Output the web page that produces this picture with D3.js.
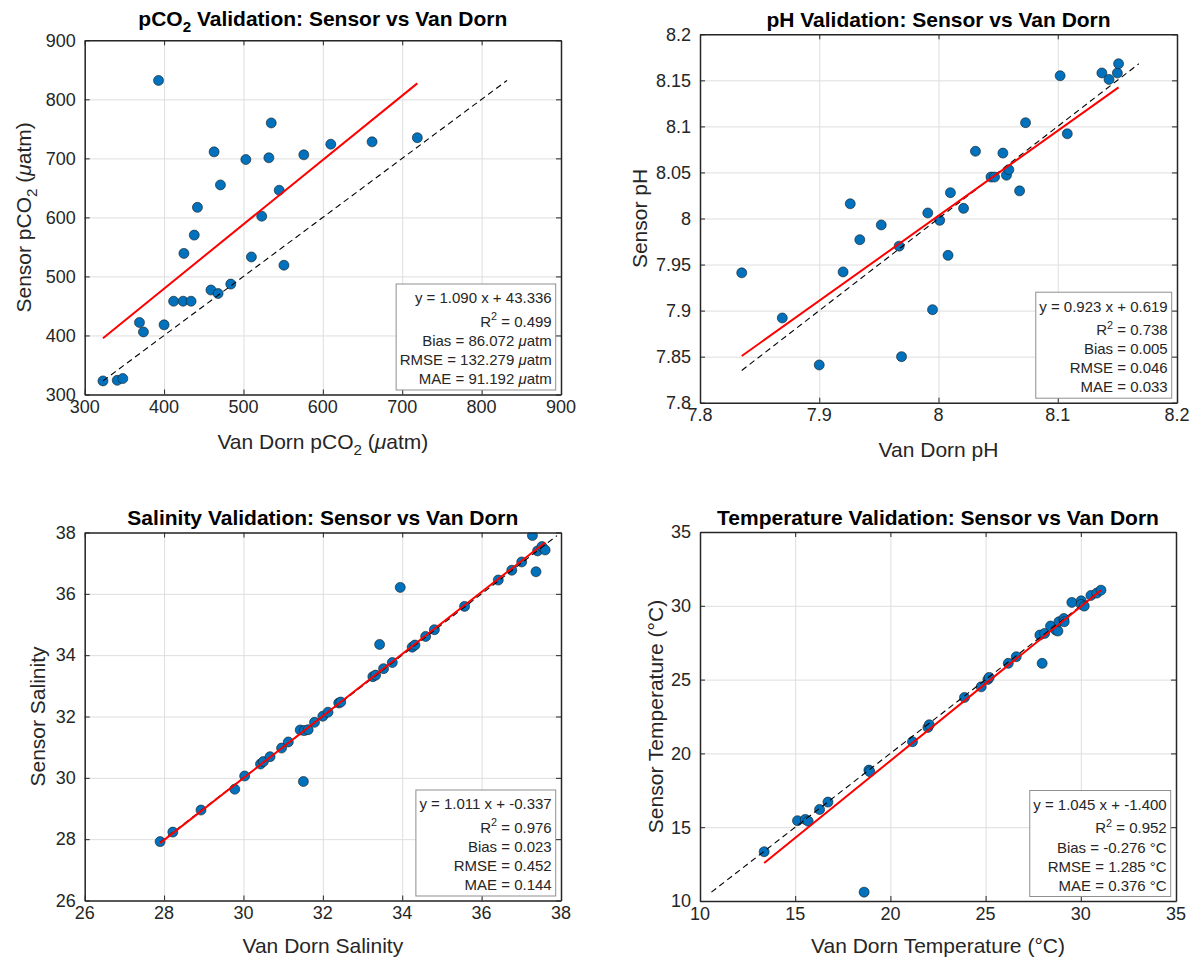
<!DOCTYPE html>
<html>
<head>
<meta charset="utf-8">
<script src="https://cdn.jsdelivr.net/npm/d3@7"></script>
<style>
  body { margin: 0; background: #fff; }
  svg { display: block; font-family: "Liberation Sans", Arial, Helvetica, sans-serif; }
</style>
</head>
<body>
<svg id="chart" width="1194" height="962"></svg>
<script>
// data (Van Dorn vs sensor)
const pco2Ref = [393, 535, 463, 503, 532, 576, 610, 662, 719, 471, 545, 442, 523, 438, 425, 510, 551, 484, 459, 468, 412, 424, 434, 369, 374, 400, 323, 341, 348];
const pco2Sensor = [832, 760, 711, 698, 701, 706, 724, 728, 735, 655, 646, 617, 602, 570, 539, 533, 519, 487, 477, 471, 458, 458, 458, 422, 406, 418, 323, 324, 327];

const phRef = [7.835, 7.869, 7.900, 7.920, 7.926, 7.934, 7.952, 7.967, 7.969, 7.991, 7.995, 8.001, 8.008, 8.010, 8.021, 8.031, 8.044, 8.047, 8.054, 8.057, 8.059, 8.068, 8.073, 8.102, 8.108, 8.137, 8.143, 8.150, 8.151];
const phSensor = [7.941, 7.892, 7.841, 7.942, 8.016, 7.977, 7.993, 7.970, 7.850, 8.006, 7.901, 7.998, 7.960, 8.028, 8.011, 8.073, 8.045, 8.045, 8.071, 8.047, 8.053, 8.030, 8.104, 8.155, 8.092, 8.158, 8.151, 8.158, 8.168];

const salRef = [27.90, 28.22, 28.93, 29.78, 30.03, 30.43, 30.50, 30.67, 30.96, 31.13, 31.51, 31.43, 31.53, 31.63, 31.79, 32.00, 32.13, 32.40, 32.45, 33.26, 33.33, 33.43, 33.53, 33.75, 33.95, 34.25, 34.32, 34.59, 34.81, 35.57, 36.42, 36.76, 37.01, 37.28, 37.37, 37.41, 37.52, 37.60];
const salSensor = [27.92, 28.23, 28.95, 29.63, 30.06, 30.45, 30.53, 30.69, 30.97, 31.17, 29.88, 31.56, 31.54, 31.57, 31.81, 32.01, 32.14, 32.44, 32.47, 33.30, 33.35, 34.35, 33.56, 33.76, 36.21, 34.26, 34.33, 34.61, 34.83, 35.59, 36.45, 36.77, 37.04, 37.90, 36.72, 37.40, 37.54, 37.43];

const tempRef = [13.37, 15.12, 15.53, 15.68, 16.28, 16.72, 18.87, 18.92, 18.62, 21.16, 21.97, 22.04, 23.89, 24.77, 25.12, 25.19, 26.19, 26.61, 27.97, 27.85, 28.10, 28.41, 28.69, 28.80, 28.85, 29.11, 29.13, 29.53, 30.02, 30.02, 30.18, 30.53, 30.84, 31.06];
const tempSensor = [13.34, 15.44, 15.53, 15.41, 16.20, 16.70, 18.87, 18.76, 10.60, 20.79, 21.76, 21.94, 23.79, 24.51, 25.01, 25.15, 26.10, 26.55, 26.10, 28.02, 28.13, 28.63, 28.35, 28.29, 28.92, 29.14, 28.92, 30.23, 30.34, 30.09, 29.98, 30.70, 30.86, 31.06];

// regression stats shown in the boxes
const slopes = [1.090, 0.923, 1.011, 1.045];
const intercepts = [43.336, 0.619, -0.337, -1.400];
const r2s = [0.499, 0.738, 0.976, 0.952];
const biases = [86.072, 0.005, 0.023, -0.276];
const rmses = [132.279, 0.046, 0.452, 1.285];
const maes = [91.192, 0.033, 0.144, 0.376];
const units = ["μatm", "", "", "°C"];

// tick labels
const pco2Ticks = [300, 400, 500, 600, 700, 800, 900];
const phXTicks = [7.8, 7.9, 8, 8.1, 8.2];
const phYTicks = [7.8, 7.85, 7.9, 7.95, 8, 8.05, 8.1, 8.15, 8.2];
const salTicks = [26, 28, 30, 32, 34, 36, 38];
const tempTicks = [10, 15, 20, 25, 30, 35];

const FONT_TICK = 18, FONT_LABEL = 21, FONT_TITLE = 21, FONT_BOX = 15;
const AX = "#262626";

const panels = [
  {
    ref: pco2Ref, sen: pco2Sensor, xd: [300, 900], yd: [300, 900], xt: pco2Ticks, yt: pco2Ticks,
    left: 84.7, right: 561, top: 40.3, bottom: 394.5, titleY: 26, xlabY: 448.5, ylabX: 31,
    title: [{t: "pCO"}, {t: "2", sub: true}, {t: " Validation: Sensor vs Van Dorn"}],
    xlab: [{t: "Van Dorn pCO"}, {t: "2", sub: true}, {t: " ("}, {t: "μ", it: true}, {t: "atm)"}],
    ylab: [{t: "Sensor pCO"}, {t: "2", sub: true}, {t: " ("}, {t: "μ", it: true}, {t: "atm)"}]
  },
  {
    ref: phRef, sen: phSensor, xd: [7.8, 8.2], yd: [7.8, 8.2], xt: phXTicks, yt: phYTicks,
    left: 700, right: 1177, top: 34.3, bottom: 402.7, titleY: 27, xlabY: 457, ylabX: 647,
    title: [{t: "pH Validation: Sensor vs Van Dorn"}],
    xlab: [{t: "Van Dorn pH"}],
    ylab: [{t: "Sensor pH"}]
  },
  {
    ref: salRef, sen: salSensor, xd: [26, 38], yd: [26, 38], xt: salTicks, yt: salTicks,
    left: 84.7, right: 561, top: 532.5, bottom: 900.5, titleY: 525, xlabY: 953, ylabX: 45,
    title: [{t: "Salinity Validation: Sensor vs Van Dorn"}],
    xlab: [{t: "Van Dorn Salinity"}],
    ylab: [{t: "Sensor Salinity"}]
  },
  {
    ref: tempRef, sen: tempSensor, xd: [10, 35], yd: [10, 35], xt: tempTicks, yt: tempTicks,
    left: 700, right: 1176, top: 532, bottom: 901, titleY: 525, xlabY: 953, ylabX: 663,
    title: [{t: "Temperature Validation: Sensor vs Van Dorn"}],
    xlab: [{t: "Van Dorn Temperature (°C)"}],
    ylab: [{t: "Sensor Temperature (°C)"}]
  }
];

const svg = d3.select("#chart");

// write text made of parts, with sub/superscripts and italics
function rich(sel, parts, size) {
  let shift = 0;
  parts.forEach(p => {
    const ts = sel.append("tspan").text(p.t);
    let want = 0;
    if (p.sub) want = size * 0.3;
    if (p.sup) want = -size * 0.42;
    if (want !== shift) { ts.attr("dy", want - shift); shift = want; }
    if (p.sub || p.sup) ts.attr("font-size", size * 0.72);
    if (p.it) ts.attr("font-style", "italic");
  });
  return sel;
}

panels.forEach((p, i) => {
  const x = d3.scaleLinear().domain(p.xd).range([p.left, p.right]);
  const y = d3.scaleLinear().domain(p.yd).range([p.bottom, p.top]);
  const w = p.right - p.left, h = p.bottom - p.top;
  const g = svg.append("g");

  // grid
  g.append("g").attr("transform", `translate(0,${p.bottom})`)
    .call(d3.axisBottom(x).tickValues(p.xt).tickSize(-h).tickFormat(""))
    .call(s => s.select(".domain").remove())
    .selectAll("line").attr("stroke", "#dedede").attr("stroke-width", 1);
  g.append("g").attr("transform", `translate(${p.left},0)`)
    .call(d3.axisLeft(y).tickValues(p.yt).tickSize(-w).tickFormat(""))
    .call(s => s.select(".domain").remove())
    .selectAll("line").attr("stroke", "#dedede").attr("stroke-width", 1);

  // data
  const pts = p.ref.map((v, k) => [v, p.sen[k]]);
  const clip = "clip" + i;
  svg.append("clipPath").attr("id", clip).append("rect")
    .attr("x", p.left).attr("y", p.top).attr("width", w).attr("height", h);
  const plot = g.append("g").attr("clip-path", `url(#${clip})`);

  plot.selectAll("circle").data(pts).join("circle")
    .attr("cx", d => x(d[0])).attr("cy", d => y(d[1])).attr("r", 5)
    .attr("fill", "#0072BD").attr("stroke", "#1a1a1a").attr("stroke-width", 0.6);

  const lo = Math.min(d3.min(p.ref), d3.min(p.sen));
  const hi = Math.max(d3.max(p.ref), d3.max(p.sen));
  const line = d3.line().x(d => x(d[0])).y(d => y(d[1]));
  plot.append("path").attr("d", line([[lo, lo], [hi, hi]]))
    .attr("fill", "none").attr("stroke", "#000").attr("stroke-width", 1.1)
    .attr("stroke-dasharray", "6,4");
  const x0 = d3.min(p.ref), x1 = d3.max(p.ref);
  plot.append("path")
    .attr("d", line([[x0, slopes[i] * x0 + intercepts[i]], [x1, slopes[i] * x1 + intercepts[i]]]))
    .attr("fill", "none").attr("stroke", "#ff0000").attr("stroke-width", 2);

  // axes box with inward ticks on all sides
  const tick = 5;
  const axes = [
    [d3.axisBottom(x).tickValues(p.xt), `translate(0,${p.bottom})`],
    [d3.axisTop(x).tickValues(p.xt), `translate(0,${p.top})`],
    [d3.axisLeft(y).tickValues(p.yt), `translate(${p.left},0)`],
    [d3.axisRight(y).tickValues(p.yt), `translate(${p.right},0)`]
  ];
  axes.forEach(([ax, tr]) => {
    const a = g.append("g").attr("transform", tr)
      .call(ax.tickSizeInner(-tick).tickSizeOuter(0).tickFormat(""));
    a.select(".domain").attr("stroke", AX).attr("stroke-width", 1.5);
    a.selectAll("line").attr("stroke", AX).attr("stroke-width", 1);
  });

  // tick labels
  g.selectAll(".xtl").data(p.xt).join("text")
    .attr("x", d => x(d)).attr("y", p.bottom + 18.5)
    .attr("text-anchor", "middle").attr("font-size", FONT_TICK).attr("fill", AX)
    .text(d => d3.format("~g")(d));
  g.selectAll(".ytl").data(p.yt).join("text")
    .attr("x", p.left - 9).attr("y", d => y(d) + 6.3)
    .attr("text-anchor", "end").attr("font-size", FONT_TICK).attr("fill", AX)
    .text(d => d3.format("~g")(d));

  // title and axis labels
  rich(g.append("text").attr("x", (p.left + p.right) / 2).attr("y", p.titleY)
    .attr("text-anchor", "middle").attr("font-size", FONT_TITLE).attr("font-weight", "bold")
    .attr("fill", "#000"), p.title, FONT_TITLE);
  rich(g.append("text").attr("x", (p.left + p.right) / 2).attr("y", p.xlabY)
    .attr("text-anchor", "middle").attr("font-size", FONT_LABEL).attr("fill", AX), p.xlab, FONT_LABEL);
  const cy = (p.top + p.bottom) / 2;
  rich(g.append("text").attr("x", p.ylabX).attr("y", cy)
    .attr("transform", `rotate(-90,${p.ylabX},${cy})`)
    .attr("text-anchor", "middle").attr("font-size", FONT_LABEL).attr("fill", AX), p.ylab, FONT_LABEL);

  // stats box
  const f = v => v.toFixed(3);
  const unitParts = units[i] === "μatm" ? [{t: " "}, {t: "μ", it: true}, {t: "atm"}]
    : units[i] ? [{t: " " + units[i]}] : [];
  const lines = [
    [{t: `y = ${f(slopes[i])} x + ${f(intercepts[i])}`}],
    [{t: "R"}, {t: "2", sup: true}, {t: ` = ${f(r2s[i])}`}],
    [{t: `Bias = ${f(biases[i])}`}].concat(unitParts),
    [{t: `RMSE = ${f(rmses[i])}`}].concat(unitParts),
    [{t: `MAE = ${f(maes[i])}`}].concat(unitParts)
  ];
  const boxRight = p.right - 5.3, boxBottom = p.bottom - 4.5, boxH = 106;
  const boxTop = boxBottom - boxH;
  const offs = [19.3, 42.7, 62, 81, 100];
  const bg = g.append("g");
  const rect = bg.append("rect");
  let maxW = 0;
  lines.forEach((ln, k) => {
    const t = rich(bg.append("text").attr("x", boxRight - 4).attr("y", boxTop + offs[k])
      .attr("text-anchor", "end").attr("font-size", FONT_BOX).attr("fill", AX), ln, FONT_BOX);
    maxW = Math.max(maxW, t.node().getBBox().width);
  });
  rect.attr("x", boxRight - maxW - 7.5).attr("y", boxTop)
    .attr("width", maxW + 7.5).attr("height", boxH)
    .attr("fill", "#fff").attr("stroke", "#8f8f8f").attr("stroke-width", 1);
});
</script>
</body>
</html>
